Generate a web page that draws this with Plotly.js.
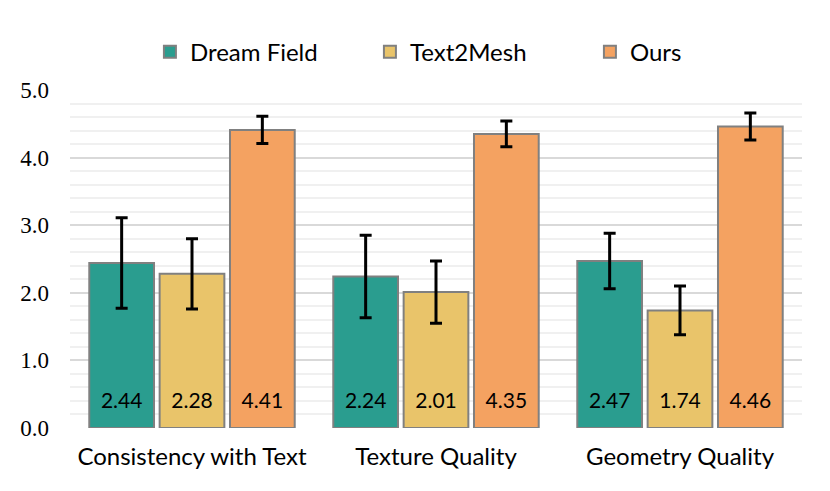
<!DOCTYPE html>
<html>
<head>
<meta charset="utf-8">
<script src="https://cdn.plot.ly/plotly-3.0.1.min.js"></script>
<style>
  html, body { margin: 0; padding: 0; background: #fff; }
  #chart { width: 830px; height: 491px; }
</style>
</head>
<body>
<div id="chart"></div>
<script>
const categories = ['Consistency with Text', 'Texture Quality', 'Geometry Quality'];
const methods = ['Dream Field', 'Text2Mesh', 'Ours'];
const dreamField = [2.44, 2.24, 2.47];
const text2Mesh = [2.28, 2.01, 1.74];
const ours = [4.41, 4.35, 4.46];
const dreamFieldErr = [0.67, 0.61, 0.41];
const text2MeshErr = [0.52, 0.46, 0.36];
const oursErr = [0.20, 0.19, 0.20];
const labelLevel = [0.37, 0.37, 0.37];
const yTicks = [0, 1, 2, 3, 4, 5];

const colors = ['#2a9d8f', '#e9c46a', '#f4a261'];
const sansFont = 'Lato, "Noto Sans", sans-serif';
const serifFont = '"Liberation Serif", "DejaVu Serif", serif';

const values = [dreamField, text2Mesh, ours];
const errors = [dreamFieldErr, text2MeshErr, oursErr];

const traces = [];
methods.forEach((name, i) => {
  traces.push({
    type: 'bar', name: name, x: categories, y: values[i],
    offsetgroup: String(i), alignmentgroup: 'a',
    marker: { color: colors[i], line: { color: '#808080', width: 2 } },
    error_y: { type: 'data', array: errors[i], visible: true, color: '#000', thickness: 3, width: 6 },
    hoverinfo: 'skip'
  });
});
// value labels near the bottom of each bar
methods.forEach((name, i) => {
  traces.push({
    type: 'scatter', mode: 'text', x: categories, y: labelLevel,
    text: values[i].map(v => v.toFixed(2)),
    offsetgroup: String(i), alignmentgroup: 'a',
    textfont: { family: sansFont, size: 21, color: '#000' },
    showlegend: false, hoverinfo: 'skip'
  });
});

const layout = {
  width: 830, height: 491,
  paper_bgcolor: '#fff', plot_bgcolor: '#fff',
  margin: { l: 70, r: 28, t: 90, b: 63 },
  barmode: 'group', bargap: 0.135, bargroupgap: 0.08,
  scattermode: 'group', scattergap: 0.135,
  showlegend: true,
  legend: {
    orientation: 'h', x: 0.56, xanchor: 'center',
    yref: 'container', y: 0.894, yanchor: 'middle',
    font: { family: sansFont, size: 24, color: '#000' },
    entrywidth: 175, entrywidthmode: 'pixels', itemclick: false
  },
  xaxis: {
    type: 'category', showgrid: false, zeroline: false, showline: false,
    ticks: '', ticklabelstandoff: 12,
    tickfont: { family: sansFont, size: 24, color: '#000' }
  },
  yaxis: {
    range: [0, 5], tickvals: yTicks, ticktext: yTicks.map(v => v.toFixed(1)),
    showgrid: true, gridcolor: '#d9d9d9', gridwidth: 2,
    zeroline: false, showline: false, ticks: '', ticklabelstandoff: 20,
    tickfont: { family: serifFont, size: 23, color: '#000' },
    minor: { dtick: 0.2, showgrid: true, gridcolor: '#f0f0f0', gridwidth: 2 }
  }
};

Plotly.newPlot('chart', traces, layout, { staticPlot: true });
</script>
</body>
</html>
